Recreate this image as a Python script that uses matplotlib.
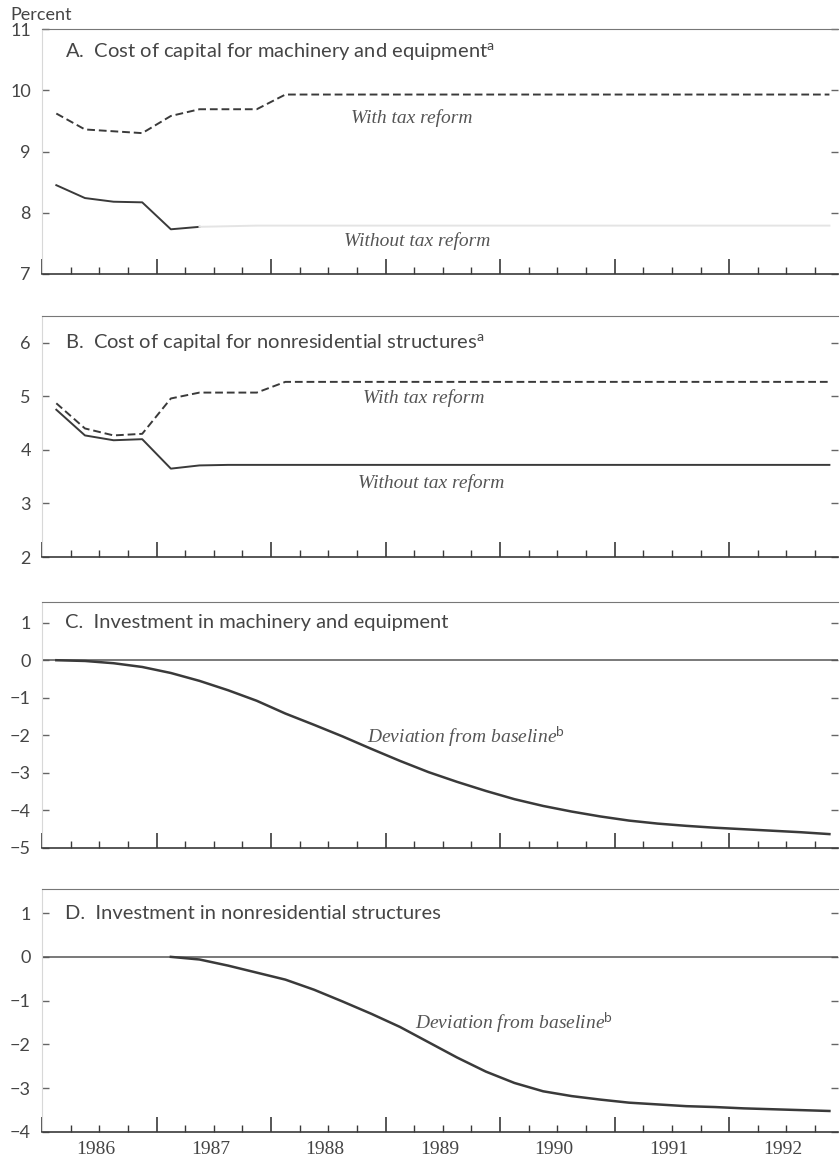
import matplotlib.pyplot as plt
import numpy as np

# quarters 1986Q1 .. 1992Q4, plotted at the middle of each quarter
quarters = np.arange(1986, 1993, 0.25) + 0.125
years = [1986, 1987, 1988, 1989, 1990, 1991, 1992]

# panel A: cost of capital, machinery and equipment (percent)
a_with = [9.62, 9.36, 9.33, 9.30, 9.58, 9.69, 9.69, 9.69, 9.93, 9.93,
          9.93, 9.93, 9.93, 9.93, 9.93, 9.93, 9.93, 9.93, 9.93, 9.93,
          9.93, 9.93, 9.93, 9.93, 9.93, 9.93, 9.93, 9.93]
a_without = [8.45, 8.24, 8.18, 8.17, 7.73, 7.77, 7.78, 7.79, 7.79, 7.79,
             7.79, 7.79, 7.79, 7.79, 7.79, 7.79, 7.79, 7.79, 7.79, 7.79,
             7.79, 7.79, 7.79, 7.79, 7.79, 7.79, 7.79, 7.79]

# panel B: cost of capital, nonresidential structures (percent)
b_with = [4.87, 4.40, 4.27, 4.30, 4.96, 5.07, 5.07, 5.07, 5.27, 5.27,
          5.27, 5.27, 5.27, 5.27, 5.27, 5.27, 5.27, 5.27, 5.27, 5.27,
          5.27, 5.27, 5.27, 5.27, 5.27, 5.27, 5.27, 5.27]
b_without = [4.75, 4.27, 4.18, 4.20, 3.65, 3.71, 3.72, 3.72, 3.72, 3.72,
             3.72, 3.72, 3.72, 3.72, 3.72, 3.72, 3.72, 3.72, 3.72, 3.72,
             3.72, 3.72, 3.72, 3.72, 3.72, 3.72, 3.72, 3.72]

# panel C: investment in machinery and equipment, deviation from baseline
c_dev = [0.0, -0.02, -0.08, -0.18, -0.34, -0.55, -0.80, -1.08, -1.42, -1.72,
         -2.03, -2.36, -2.68, -2.98, -3.24, -3.48, -3.70, -3.88, -4.03, -4.16,
         -4.27, -4.35, -4.41, -4.46, -4.50, -4.54, -4.58, -4.63]

# panel D: investment in nonresidential structures (starts 1987Q1)
d_dev = [0.0, -0.06, -0.20, -0.36, -0.52, -0.75, -1.02, -1.30, -1.60, -1.95,
         -2.30, -2.62, -2.88, -3.07, -3.18, -3.26, -3.33, -3.37, -3.41, -3.43,
         -3.46, -3.48, -3.50, -3.52]

plt.rcParams['mathtext.fontset'] = 'custom'
plt.rcParams['mathtext.rm'] = 'Lato'
plt.rcParams['mathtext.it'] = 'Liberation Serif:italic'

ink = '#3a3a3a'
txt = '#454545'
W, H = 840, 1161

fig = plt.figure(figsize=(W / 100, H / 100), dpi=100)


def make_axes(top_px, bottom_px, ylim, yticks, yticklabels):
    ax = fig.add_axes([42 / W, 1 - bottom_px / H, 796 / W, (bottom_px - top_px) / H])
    ax.set_xlim(1986, 1992.95)
    ax.set_ylim(*ylim)
    ax.set_yticks(yticks)
    ax.set_yticklabels(yticklabels, fontsize=13, color=txt, family='Lato')
    ax.tick_params(axis='y', direction='in', length=5, width=1, color='#666',
                   right=True, pad=8)
    ax.set_xticks(np.arange(1986, 1993), labels=[])
    ax.set_xticks(np.arange(1986, 1993, 0.25), minor=True)
    ax.tick_params(axis='x', which='major', direction='in', length=11, width=1.2, color=ink)
    ax.tick_params(axis='x', which='minor', direction='in', length=5, width=1, color=ink)
    ax.spines['left'].set_color('#d8d8d8')
    ax.spines['right'].set_visible(False)
    ax.spines['top'].set_color('#777')
    ax.spines['bottom'].set_color(ink)
    ax.spines['bottom'].set_linewidth(1.2)
    return ax


def title(ax, yfrac, s):
    ax.text(23 / 796, yfrac, s, transform=ax.transAxes, fontsize=14.5, color=txt,
            family='Lato', va='center')


def label(ax, x, y, s):
    ax.text(x, y, s, fontsize=14, color='#555', family='Liberation Serif',
            style='italic', ha='center', va='center')


dash = (0, (4, 2))

# A
axA = make_axes(29, 274, (7, 11), [7, 8, 9, 10, 11], ['7', '8', '9', '10', '11'])
axA.plot(quarters, a_with, color=ink, lw=1.4, ls=dash)
axA.plot(quarters[:6], a_without[:6], color=ink, lw=1.4)
axA.plot(quarters[5:], a_without[5:], color='#e4e4e4', lw=1.4)
title(axA, 1 - 23 / 245, 'A.  Cost of capital for machinery and equipment$^{\\rm a}$')
label(axA, 1989.23, 9.55, 'With tax reform')
label(axA, 1989.28, 7.53, 'Without tax reform')

# B
axB = make_axes(316, 557, (2, 6.5), [2, 3, 4, 5, 6], ['2', '3', '4', '5', '6'])
axB.plot(quarters, b_with, color=ink, lw=1.4, ls=dash)
axB.plot(quarters, b_without, color=ink, lw=1.4)
title(axB, 4 / 4.5, 'B.  Cost of capital for nonresidential structures$^{\\rm a}$')
label(axB, 1989.33, 4.97, 'With tax reform')
label(axB, 1989.40, 3.38, 'Without tax reform')

# C
axC = make_axes(602, 848, (-5, 1.55), [-5, -4, -3, -2, -1, 0, 1],
                ['\u22125', '\u22124', '\u22123', '\u22122', '\u22121', '0', '1'])
axC.axhline(0, color='#555', lw=1.1)
axC.plot(quarters, c_dev, color=ink, lw=1.8)
title(axC, 6 / 6.55, 'C.  Investment in machinery and equipment')
label(axC, 1989.7, -2.05, 'Deviation from baseline$^{\\rm b}$')

# D
axD = make_axes(889, 1132, (-4, 1.55), [-4, -3, -2, -1, 0, 1],
                ['\u22124', '\u22123', '\u22122', '\u22121', '0', '1'])
axD.axhline(0, color='#555', lw=1.1)
axD.plot(quarters[4:], d_dev, color=ink, lw=1.8)
title(axD, 5 / 5.55, 'D.  Investment in nonresidential structures')
label(axD, 1990.12, -1.5, 'Deviation from baseline$^{\\rm b}$')

# year labels under the last panel, centred in each year
for yr in years:
    axD.text(yr + 0.47, -4.2, str(yr), fontsize=14, color=txt,
             family='Liberation Serif', ha='center', va='top')

fig.text(10 / W, 1 - 15 / H, 'Percent', fontsize=13, color=txt, family='Lato', va='center')

plt.savefig('out.png', dpi=100)
